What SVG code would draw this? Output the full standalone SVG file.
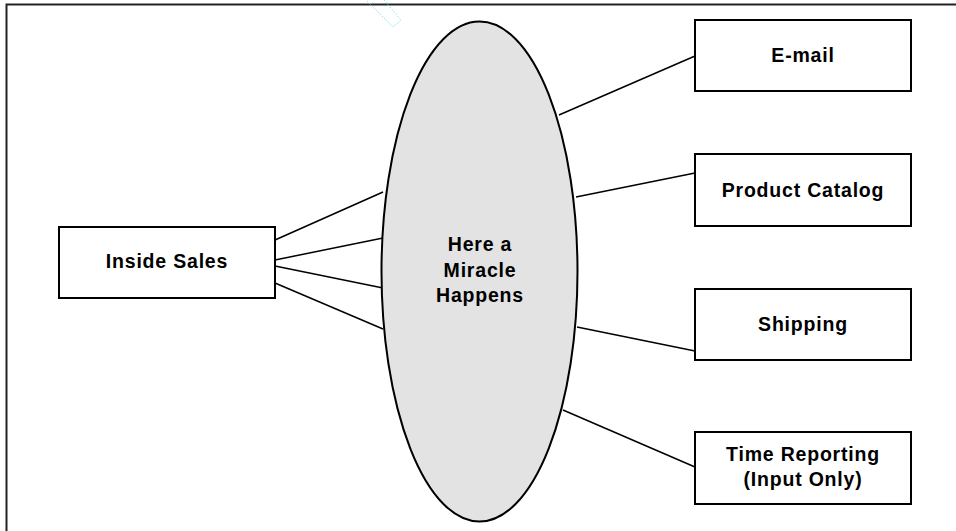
<svg xmlns="http://www.w3.org/2000/svg" width="956" height="531" viewBox="0 0 956 531">
<style>
.box{fill:#fff;stroke:#000;stroke-width:2}
.lbl{font-family:"Liberation Sans",Arial,sans-serif;font-weight:bold;font-size:19.5px;fill:#000;text-anchor:middle;letter-spacing:0.8px}
.conn line{stroke:#000;stroke-width:1.5}
</style>
<rect width="956" height="531" fill="#fff"/>
<path d="M6.5 531 V4.5 H956" fill="none" stroke="#222" stroke-width="2"/>
<polygon points="362,-4 374,-12 401,20 393,27" fill="none" stroke="#7ee8f0" stroke-width="1" stroke-dasharray="1.5,1.5"/>
<g id="connectors" class="conn">
<line x1="275" y1="240" x2="383" y2="192"/>
<line x1="275" y1="260" x2="383" y2="238"/>
<line x1="275" y1="266" x2="383" y2="288"/>
<line x1="275" y1="283" x2="383" y2="329"/>
<line x1="559" y1="115" x2="695" y2="56"/>
<line x1="576" y1="197" x2="695" y2="173"/>
<line x1="577" y1="327" x2="695" y2="351"/>
<line x1="563" y1="410" x2="695" y2="467"/>
</g>
<g id="miracle">
<ellipse cx="479.5" cy="271.5" rx="98" ry="250" fill="#e3e3e3" stroke="#000" stroke-width="2"/>
<text class="lbl" x="480" y="251">Here a</text>
<text class="lbl" x="480" y="277">Miracle</text>
<text class="lbl" x="480" y="302">Happens</text>
</g>
<g id="inside-sales">
<rect class="box" x="59" y="227" width="216" height="71"/>
<text class="lbl" x="167" y="268">Inside Sales</text>
</g>
<g id="email">
<rect class="box" x="695" y="20" width="216" height="71"/>
<text class="lbl" x="803" y="62">E-mail</text>
</g>
<g id="product-catalog">
<rect class="box" x="695" y="154" width="216" height="72"/>
<text class="lbl" x="803" y="197">Product Catalog</text>
</g>
<g id="shipping">
<rect class="box" x="695" y="289" width="216" height="71"/>
<text class="lbl" x="803" y="331">Shipping</text>
</g>
<g id="time-reporting">
<rect class="box" x="695" y="432" width="216" height="72"/>
<text class="lbl" x="803" y="461">Time Reporting</text>
<text class="lbl" x="803" y="486">(Input Only)</text>
</g>
</svg>
